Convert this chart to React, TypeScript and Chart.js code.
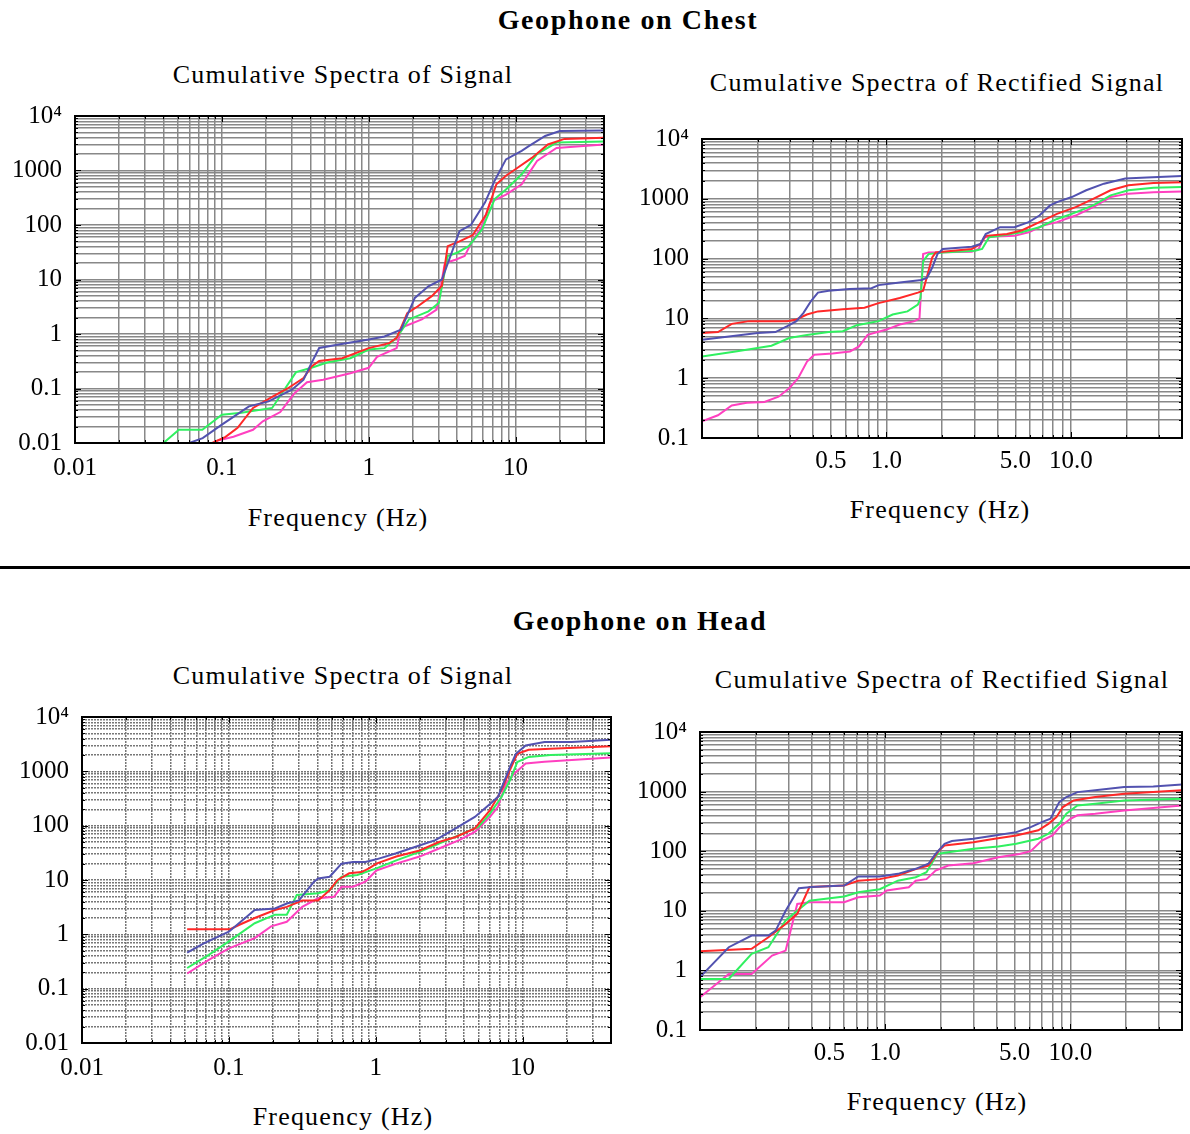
import React, { useEffect, useRef } from 'react';
import { Chart, registerables } from 'chart.js';

Chart.register(...registerables);

type Pt = [number, number];

// ---------- text ----------
const sectionTitles = ['Geophone on Chest', 'Geophone on Head'];
const panelTitles = ['Cumulative Spectra of Signal', 'Cumulative Spectra of Rectified Signal'];
const xAxisTitle = 'Frequency (Hz)';

// ---------- series styling ----------
const seriesNames = ['Blue', 'Red', 'Green', 'Magenta'];
const seriesColors = ['#5252b0', '#ff2828', '#30f060', '#ff40c0'];

// ---------- tick labels ----------
const signalXTickValues = [0.01, 0.1, 1, 10];
const signalXTickLabels = ['0.01', '0.1', '1', '10'];
const rectXTickValues = [0.5, 1, 5, 10];
const rectXTickLabels = ['0.5', '1.0', '5.0', '10.0'];
const yTickValues = [0.01, 0.1, 1, 10, 100, 1000, 10000];
const yTickLabels = ['0.01', '0.1', '1', '10', '100', '1000', '10\u2074'];

// ---------- Chest: cumulative spectra of signal [Hz, value] ----------
const chestSignalBlue: Pt[] = [[0.06,0.01],[0.074,0.0123],[0.1,0.0217],[0.153,0.047],[0.208,0.058],[0.3,0.095],[0.36,0.145],[0.408,0.295],[0.46,0.555],[0.625,0.64],[1.0,0.79],[1.28,0.9],[1.66,1.2],[2.06,4.6],[2.55,7.5],[3.15,10],[4.15,77],[4.96,100],[6.2,260],[7.2,650],[8.6,1600],[11,2300],[12.3,2800],[15.9,4300],[20,5300],[40,5400]];
const chestSignalRed: Pt[] = [[0.086,0.01],[0.106,0.013],[0.128,0.019],[0.163,0.044],[0.22,0.07],[0.28,0.1],[0.36,0.155],[0.408,0.255],[0.46,0.32],[0.66,0.36],[1.0,0.55],[1.38,0.68],[1.55,0.85],[1.83,2.4],[2.15,3.2],[2.7,5],[3.15,7.7],[3.45,41],[4.15,50],[5.1,65],[6.3,155],[7.4,560],[8.6,800],[10.2,1100],[12.9,1700],[16.6,3000],[21.5,3800],[40,4000]];
const chestSignalGreen: Pt[] = [[0.04,0.01],[0.051,0.0175],[0.0736,0.0175],[0.1,0.033],[0.136,0.036],[0.22,0.044],[0.32,0.2],[0.408,0.24],[0.52,0.3],[0.75,0.36],[1.0,0.52],[1.28,0.55],[1.55,0.85],[1.88,1.85],[2.55,2.6],[3.0,3.7],[3.45,27],[4.0,31],[4.8,41],[5.9,83],[7.2,300],[8.6,450],[11,850],[14,2000],[19,3250],[40,3400]];
const chestSignalMagenta: Pt[] = [[0.089,0.0107],[0.12,0.013],[0.163,0.0175],[0.19,0.025],[0.25,0.037],[0.31,0.08],[0.38,0.13],[0.49,0.145],[0.75,0.19],[1.0,0.24],[1.14,0.38],[1.55,0.55],[1.66,1.3],[2.3,1.85],[2.9,2.8],[3.3,20],[3.9,23],[4.5,27],[5.0,47],[5.9,95],[6.7,260],[8.6,360],[11,560],[14,1500],[19,2600],[40,3000]];

// ---------- Chest: cumulative spectra of rectified signal ----------
const chestRectBlue: Pt[] = [[0.1,4.4],[0.14,5],[0.2,5.7],[0.25,5.9],[0.29,7.4],[0.325,9],[0.355,12.4],[0.39,19.5],[0.425,27],[0.486,29],[0.63,31],[0.83,32],[0.906,36],[1.18,40],[1.55,44],[1.66,48],[1.77,71],[1.89,119],[2.02,145],[2.9,158],[3.23,175],[3.45,258],[4.13,335],[4.94,335],[5.9,407],[6.75,525],[7.7,775],[8.4,880],[10.1,1070],[12.1,1390],[15.1,1790],[19.7,2180],[25.8,2270],[40,2400]];
const chestRectRed: Pt[] = [[0.1,5.7],[0.122,5.9],[0.145,8.1],[0.18,9],[0.29,9],[0.325,9.6],[0.37,11.6],[0.425,13.1],[0.58,14.2],[0.76,15.1],[0.906,18],[1.18,22],[1.48,27],[1.58,29],[1.69,62],[1.77,105],[1.85,127],[2.02,130],[2.9,145],[3.23,175],[3.45,240],[4.5,258],[5.4,295],[6.75,407],[8.4,560],[10.6,725],[13.2,1000],[16.4,1390],[20.5,1680],[28,1840],[40,1890]];
const chestRectGreen: Pt[] = [[0.1,2.3],[0.152,2.8],[0.2,3.2],[0.238,3.5],[0.297,4.7],[0.371,5.3],[0.486,5.9],[0.58,6.1],[0.69,7.7],[0.906,9],[1.08,11.6],[1.3,13.1],[1.48,17],[1.53,22],[1.58,91],[1.69,119],[2.02,127],[3.02,135],[3.3,145],[3.6,228],[4.13,240],[5.4,276],[6.75,335],[8.4,460],[10.1,560],[13.2,775],[16.4,1140],[20.5,1390],[28,1535],[40,1580]];
const chestRectMagenta: Pt[] = [[0.1,0.19],[0.122,0.24],[0.145,0.35],[0.175,0.39],[0.218,0.4],[0.26,0.49],[0.297,0.68],[0.332,1.0],[0.371,1.9],[0.406,2.47],[0.51,2.6],[0.634,2.8],[0.71,3.4],[0.79,5.3],[1.0,6.5],[1.18,7.9],[1.42,9],[1.51,10],[1.58,119],[1.69,127],[2.9,130],[3.16,145],[3.38,228],[3.95,235],[4.94,240],[5.9,276],[7.06,357],[8.4,407],[10.6,525],[13.2,725],[16.4,1070],[20.5,1220],[28,1290],[40,1330]];

// ---------- Head: cumulative spectra of signal ----------
const headSignalBlue: Pt[] = [[0.052,0.46],[0.068,0.69],[0.1,1.12],[0.15,2.8],[0.206,3.0],[0.248,3.7],[0.3,4.2],[0.38,9.3],[0.405,10.7],[0.486,11.5],[0.585,20],[0.7,21.5],[0.85,21.5],[1.01,24],[1.38,31],[1.87,41],[2.55,54],[3.5,89],[4.73,145],[6.0,250],[6.8,340],[8.2,1200],[9.0,2100],[10.5,3000],[14.1,3450],[21.6,3450],[40,3800]];
const headSignalRed: Pt[] = [[0.052,1.24],[0.102,1.24],[0.118,1.5],[0.15,2.0],[0.206,2.8],[0.248,3.2],[0.316,4.2],[0.405,4.2],[0.486,6.5],[0.55,10],[0.66,13.3],[0.8,14],[0.9,16.4],[1.01,20],[1.38,27],[1.99,35],[2.7,50],[3.5,62],[4.73,89],[6.0,193],[7.2,450],[8.2,1050],[9.2,2100],[11,2500],[15.5,2600],[40,2900]];
const headSignalGreen: Pt[] = [[0.052,0.24],[0.073,0.42],[0.1,0.74],[0.15,1.6],[0.206,2.3],[0.248,2.3],[0.29,5.3],[0.405,5.7],[0.486,6.5],[0.585,11.5],[0.75,12.4],[1.01,16.4],[1.38,23],[1.99,33],[2.7,47],[3.7,67],[5.0,95],[6.0,167],[7.2,340],[8.2,685],[9.2,1480],[11,1840],[15.5,2000],[40,2150]];
const headSignalMagenta: Pt[] = [[0.052,0.19],[0.073,0.34],[0.1,0.55],[0.15,0.85],[0.194,1.4],[0.248,1.7],[0.316,3.2],[0.405,4.6],[0.52,4.9],[0.585,7.5],[0.7,7.5],[0.85,9.3],[1.01,15],[1.38,20],[1.99,27],[2.7,38],[3.7,54],[4.73,77],[6.0,145],[6.8,222],[7.7,600],[8.8,910],[10.5,1390],[14.1,1500],[40,1800]];

// ---------- Head: cumulative spectra of rectified signal ----------
const headRectBlue: Pt[] = [[0.1,0.77],[0.143,2.45],[0.19,3.85],[0.234,3.85],[0.256,4.65],[0.29,10],[0.342,24],[0.4,25],[0.6,26.5],[0.715,37.6],[0.935,37.6],[1.17,41.7],[1.46,50.6],[1.71,61.5],[1.87,90],[2.09,133],[2.29,148],[2.99,162],[3.9,184],[5.1,209],[6.1,254],[7.0,308],[7.8,350],[8.7,667],[9.5,810],[10.9,980],[13.6,1050],[19.5,1190],[28,1220],[40,1320]];
const headRectRed: Pt[] = [[0.1,2.1],[0.19,2.3],[0.234,3.6],[0.29,6.0],[0.335,8.9],[0.39,25],[0.6,26.5],[0.715,32],[0.935,34],[1.17,39],[1.46,50],[1.71,57.5],[1.95,103],[2.09,125],[2.99,141],[3.9,162],[5.1,184],[6.7,224],[7.6,288],[8.4,373],[9.1,550],[10.4,711],[13.6,810],[19.5,920],[40,1050]];
const headRectGreen: Pt[] = [[0.1,0.72],[0.143,0.72],[0.19,1.9],[0.234,2.45],[0.29,6.9],[0.335,10],[0.39,14.8],[0.6,17.4],[0.715,20.5],[0.935,23],[1.17,32],[1.46,36.6],[1.67,44.5],[1.91,90],[2.19,96],[2.99,110],[4.08,120],[5.1,133],[6.7,162],[7.6,196],[8.7,288],[9.5,425],[10.9,586],[13.6,625],[19.5,711],[40,760]];
const headRectMagenta: Pt[] = [[0.1,0.354],[0.143,0.87],[0.19,0.87],[0.245,1.77],[0.29,2.15],[0.335,13],[0.39,13.9],[0.6,13.9],[0.715,16.9],[0.935,18],[1.02,21.9],[1.34,24.9],[1.46,32],[1.67,34],[1.87,47.4],[2.19,57.5],[2.99,63],[4.08,79],[5.3,90],[6.1,100],[7.0,151],[8.0,184],[8.7,250],[10.0,350],[10.9,400],[13.6,425],[19.5,483],[40,586]];

// ---------- helpers ----------
function logGrid(min: number, max: number): number[] {
  const out: number[] = [];
  for (let e = -3; e <= 5; e++) {
    for (let m = 1; m <= 9; m++) {
      const v = Number((m * Math.pow(10, e)).toPrecision(6));
      if (v >= min * 0.9999 && v <= max * 1.0001) out.push(v);
    }
  }
  if (out[out.length - 1] < max * 0.9999) out.push(max);
  return out;
}

function labelFor(v: number, vals: number[], labels: string[]): string {
  const i = vals.findIndex((t) => Math.abs(Math.log10(t) - Math.log10(v)) < 1e-6);
  return i >= 0 ? labels[i] : '';
}

function isDecade(v: number): boolean {
  const l = Math.log10(v);
  return Math.abs(l - Math.round(l)) < 1e-6;
}

const framePlugin = {
  id: 'frame',
  afterDraw(chart: any) {
    const { ctx, chartArea: a, scales } = chart;
    ctx.save();
    ctx.strokeStyle = '#000';
    ctx.lineWidth = 1;
    ctx.beginPath();
    for (const t of scales.y.ticks) {
      const py = Math.round(scales.y.getPixelForValue(t.value)) + 0.5;
      const len = isDecade(t.value) ? 6 : 3;
      ctx.moveTo(a.left, py); ctx.lineTo(a.left + len, py);
      ctx.moveTo(a.right, py); ctx.lineTo(a.right - len, py);
    }
    for (const t of scales.x.ticks) {
      const px = Math.round(scales.x.getPixelForValue(t.value)) + 0.5;
      const len = isDecade(t.value) ? 6 : 3;
      ctx.moveTo(px, a.bottom); ctx.lineTo(px, a.bottom - len);
      ctx.moveTo(px, a.top); ctx.lineTo(px, a.top + len);
    }
    ctx.stroke();
    ctx.lineWidth = 2;
    ctx.strokeRect(Math.round(a.left), Math.round(a.top), Math.round(a.right - a.left), Math.round(a.bottom - a.top));
    ctx.restore();
  },
};

type Spec = {
  area: { l: number; t: number; r: number; b: number };
  box: { x: number; y: number; w: number; h: number };
  xMin: number; xMax: number; yMin: number; yMax: number;
  xVals: number[]; xLabels: string[];
  xPad: number;
  dash: number[];
  gridColor: string;
  series: Pt[][];
};

const tickFont = { family: '"Liberation Serif", "Times New Roman", serif', size: 25 };

function Panel({ spec }: { spec: Spec }) {
  const ref = useRef<HTMLCanvasElement | null>(null);
  useEffect(() => {
    const { area, box } = spec;
    const gridOpts = { color: spec.gridColor, lineWidth: 1.5, drawTicks: false };
    const chart = new Chart(ref.current as HTMLCanvasElement, {
      type: 'scatter',
      data: {
        datasets: spec.series.map((s, i) => ({
          label: seriesNames[i],
          data: s.map(([x, y]) => ({ x, y })),
          showLine: true,
          borderColor: seriesColors[i],
          backgroundColor: seriesColors[i],
          borderWidth: 2,
          pointRadius: 0,
          tension: 0,
          fill: false,
        })),
      },
      options: {
        responsive: false,
        animation: false,
        events: [],
        layout: { padding: { top: area.t - box.y, right: box.x + box.w - area.r, left: 0, bottom: 0 } },
        plugins: { legend: { display: false }, tooltip: { enabled: false }, title: { display: false } },
        scales: {
          x: {
            type: 'logarithmic',
            min: spec.xMin,
            max: spec.xMax,
            afterFit: (s: any) => { s.height = box.y + box.h - area.b; },
            afterBuildTicks: (s: any) => { s.ticks = logGrid(spec.xMin, spec.xMax).map((v) => ({ value: v })); },
            grid: gridOpts,
            border: { display: false, dash: spec.dash },
            ticks: {
              autoSkip: false, maxRotation: 0, minRotation: 0, padding: spec.xPad,
              font: tickFont, color: '#000',
              callback: (v: any) => labelFor(Number(v), spec.xVals, spec.xLabels),
            },
          },
          y: {
            type: 'logarithmic',
            min: spec.yMin,
            max: spec.yMax,
            afterFit: (s: any) => { s.width = area.l - box.x; },
            afterBuildTicks: (s: any) => { s.ticks = logGrid(spec.yMin, spec.yMax).map((v) => ({ value: v })); },
            grid: gridOpts,
            border: { display: false, dash: spec.dash },
            ticks: {
              autoSkip: false, padding: 13,
              font: tickFont, color: '#000',
              callback: (v: any) => labelFor(Number(v), yTickValues, yTickLabels),
            },
          },
        },
      } as any,
      plugins: [framePlugin],
    });
    return () => chart.destroy();
  }, [spec]);
  return (
    <canvas
      ref={ref}
      width={spec.box.w}
      height={spec.box.h}
      style={{ position: 'absolute', left: spec.box.x, top: spec.box.y, width: spec.box.w, height: spec.box.h }}
    />
  );
}

const specs: Spec[] = [
  {
    area: { l: 75, t: 116, r: 604, b: 443 }, box: { x: 0, y: 84, w: 620, h: 416 },
    xMin: 0.01, xMax: 40, yMin: 0.01, yMax: 10000,
    xVals: signalXTickValues, xLabels: signalXTickLabels, xPad: 10, dash: [], gridColor: '#888888',
    series: [chestSignalBlue, chestSignalRed, chestSignalGreen, chestSignalMagenta],
  },
  {
    area: { l: 702, t: 139, r: 1184, b: 438 }, box: { x: 627, y: 107, w: 563, h: 382 },
    xMin: 0.1, xMax: 40, yMin: 0.1, yMax: 10000,
    xVals: rectXTickValues, xLabels: rectXTickLabels, xPad: 8, dash: [], gridColor: '#888888',
    series: [chestRectBlue, chestRectRed, chestRectGreen, chestRectMagenta],
  },
  {
    area: { l: 82, t: 717, r: 611, b: 1043 }, box: { x: 0, y: 685, w: 625, h: 412 },
    xMin: 0.01, xMax: 40, yMin: 0.01, yMax: 10000,
    xVals: signalXTickValues, xLabels: signalXTickLabels, xPad: 10, dash: [2, 1], gridColor: '#777777',
    series: [headSignalBlue, headSignalRed, headSignalGreen, headSignalMagenta],
  },
  {
    area: { l: 700, t: 732, r: 1183, b: 1030 }, box: { x: 625, y: 700, w: 565, h: 382 },
    xMin: 0.1, xMax: 40, yMin: 0.1, yMax: 10000,
    xVals: rectXTickValues, xLabels: rectXTickLabels, xPad: 8, dash: [], gridColor: '#888888',
    series: [headRectBlue, headRectRed, headRectGreen, headRectMagenta],
  },
];

function Label({ x, y, text, bold }: { x: number; y: number; text: string; bold?: boolean }) {
  return (
    <div
      style={{
        position: 'absolute', left: x, top: y, transform: 'translate(-50%, -50%)',
        whiteSpace: 'nowrap', fontFamily: '"Liberation Serif", "Times New Roman", serif',
        fontSize: bold ? 28 : 26, fontWeight: bold ? 'bold' : 'normal',
        letterSpacing: bold ? 1.6 : 1.2, lineHeight: 1, color: '#000',
      }}
    >
      {text}
    </div>
  );
}

export default function App() {
  return (
    <div style={{ position: 'absolute', left: 0, top: 0, width: 1190, height: 1134, overflow: 'hidden', background: '#fff' }}>
      <Label x={628} y={20} text={sectionTitles[0]} bold />
      <Label x={343} y={75} text={panelTitles[0]} />
      <Label x={937} y={83} text={panelTitles[1]} />
      <Label x={338} y={518} text={xAxisTitle} />
      <Label x={940} y={510} text={xAxisTitle} />
      <div style={{ position: 'absolute', left: 0, top: 566, width: 1190, height: 3, background: '#000' }} />
      <Label x={640} y={621} text={sectionTitles[1]} bold />
      <Label x={343} y={676} text={panelTitles[0]} />
      <Label x={942} y={680} text={panelTitles[1]} />
      <Label x={343} y={1117} text={xAxisTitle} />
      <Label x={937} y={1102} text={xAxisTitle} />
      {specs.map((s, i) => (
        <Panel key={i} spec={s} />
      ))}
    </div>
  );
}
